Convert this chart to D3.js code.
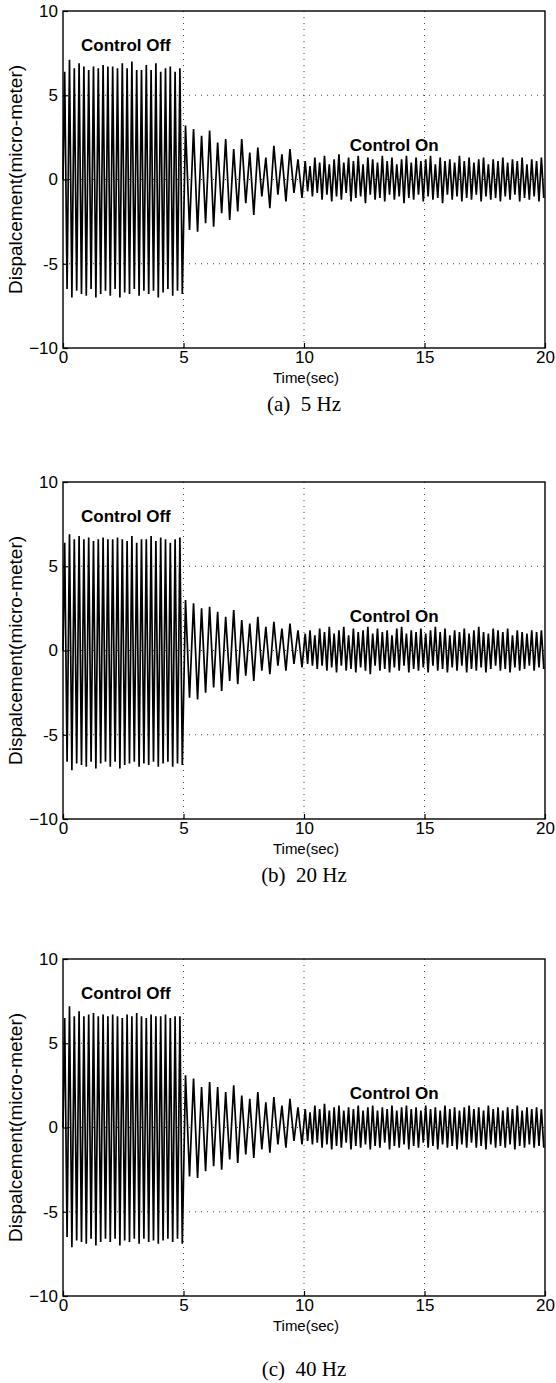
<!DOCTYPE html>
<html><head><meta charset="utf-8">
<script src="https://cdn.jsdelivr.net/npm/d3@7"></script>
<style>body{margin:0;background:#fff}svg{display:block}</style>
</head><body>
<script>
// ---- data ----
const xTicks = [0, 5, 10, 15, 20];
const yTicks = [10, 5, 0, -5, -10];
const yTickLabels = ["10", "5", "0", "-5", "\u221210"];
const captions = ["(a)  5 Hz", "(b)  20 Hz", "(c)  40 Hz"];
const xLabel = "Time(sec)";
const yLabel = "Dispalcement(micro-meter)";
const offText = "Control Off", onText = "Control On";
const segTimes = [0.02, 5.0, 10.0, 20.0]; // segment boundaries (sec)

// panel (a)
const offPeaksA = [6.4,7.1,6.6,6.9,6.7,6.5,6.7,6.6,6.8,6.7,6.7,6.6,6.9,6.6,7.0,6.5,6.5,6.8,6.5,6.9,6.4,6.6,6.7,6.4,6.6];
const offTroughsA = [-6.5,-7.0,-6.6,-6.8,-6.9,-6.5,-7.0,-6.8,-6.6,-6.9,-6.5,-7.0,-6.7,-6.8,-6.5,-6.9,-6.6,-6.8,-6.6,-7.0,-6.7,-6.5,-6.9,-6.6,-6.8];
const decayPeaksA = [3.2,3.0,2.6,2.9,2.2,2.4,1.8,2.4,1.6,1.9,1.3,2.0,1.5,1.8,1.2];
const decayTroughsA = [-3.0,-3.1,-2.6,-2.8,-2.0,-2.4,-1.9,-1.4,-2.1,-1.0,-1.7,-0.9,-1.3,-0.8,-1.1];
const steadyPeaksA = [1.1,0.8,1.3,1.0,1.4,0.9,1.2,1.5,1.0,1.3,1.1,1.4,0.9,1.3,1.2,1.0,1.4,1.1,1.3,0.9,1.2,1.4,1.0,1.3,1.1,1.2,1.4,0.9,1.3,1.1,1.2,1.0,1.4,1.1,1.3,1.0,1.2,1.3,0.9,1.2,1.1,1.3,1.0,1.2,1.1,1.3,0.9,1.2,1.1,1.3];
const steadyTroughsA = [-0.7,-1.0,-0.8,-1.2,-0.9,-1.3,-1.0,-1.2,-0.8,-1.3,-1.1,-1.0,-1.4,-0.9,-1.2,-1.1,-1.3,-0.9,-1.2,-1.0,-1.4,-1.1,-1.2,-0.9,-1.3,-1.0,-1.2,-1.1,-1.4,-0.9,-1.2,-1.0,-1.3,-1.1,-1.2,-0.9,-1.3,-1.0,-1.2,-1.1,-1.3,-1.0,-1.2,-0.9,-1.3,-1.1,-1.2,-1.0,-1.3,-1.1];

// panel (b)
const offPeaksB = [6.4,6.9,6.6,6.8,6.6,6.7,6.5,6.6,6.7,6.6,6.6,6.7,6.6,6.5,6.8,6.4,6.6,6.6,6.8,6.5,6.7,6.6,6.4,6.6,6.7];
const offTroughsB = [-6.6,-7.1,-6.7,-6.8,-6.9,-6.6,-7.0,-6.7,-6.6,-6.9,-6.6,-7.0,-6.8,-6.7,-6.6,-6.9,-6.7,-6.8,-6.6,-6.9,-6.7,-6.6,-6.9,-6.7,-6.8];
const decayPeaksB = [3.0,2.8,2.5,2.6,2.3,2.0,2.4,1.8,1.6,2.0,1.4,1.7,1.3,1.6,1.2];
const decayTroughsB = [-2.8,-2.9,-2.5,-2.2,-2.4,-1.8,-2.0,-1.5,-1.8,-1.2,-1.4,-0.9,-1.2,-0.8,-1.0];
const steadyPeaksB = [1.0,1.2,0.9,1.3,1.1,1.4,1.0,1.2,1.4,0.9,1.3,1.1,1.2,1.4,1.0,1.3,1.1,1.2,0.9,1.3,1.4,1.0,1.2,1.1,1.3,1.0,1.2,1.4,1.1,1.3,0.9,1.2,1.1,1.3,1.0,1.2,1.4,1.1,1.0,1.3,1.2,1.1,1.3,0.9,1.2,1.1,1.0,1.2,1.1,1.2];
const steadyTroughsB = [-0.8,-0.9,-1.1,-0.9,-1.2,-1.0,-1.3,-0.9,-1.2,-1.1,-1.3,-1.0,-1.2,-1.4,-0.9,-1.2,-1.1,-1.3,-1.0,-1.2,-0.9,-1.3,-1.1,-1.2,-1.0,-1.3,-0.9,-1.2,-1.1,-1.3,-1.0,-1.2,-0.9,-1.3,-1.1,-1.2,-1.0,-1.3,-1.1,-0.9,-1.2,-1.1,-1.3,-1.0,-1.2,-1.1,-0.9,-1.2,-1.0,-1.1];

// panel (c)
const offPeaksC = [6.5,7.2,6.6,6.9,6.6,6.7,6.8,6.6,6.7,6.6,6.7,6.6,6.5,6.7,6.6,6.8,6.6,6.5,6.7,6.6,6.6,6.7,6.5,6.6,6.6];
const offTroughsC = [-6.5,-7.1,-6.7,-6.8,-6.9,-6.6,-7.0,-6.8,-6.6,-6.8,-6.6,-7.0,-6.7,-6.8,-6.6,-6.9,-6.6,-6.8,-6.7,-6.9,-6.7,-6.6,-6.8,-6.6,-6.9];
const decayPeaksC = [3.1,2.9,2.4,2.7,2.4,2.1,2.5,1.9,1.7,2.1,1.5,1.8,1.3,1.7,1.2];
const decayTroughsC = [-2.9,-3.0,-2.6,-2.3,-2.5,-1.9,-2.1,-1.6,-1.8,-1.3,-1.5,-1.0,-1.2,-0.8,-1.0];
const steadyPeaksC = [1.1,0.9,1.3,1.1,1.4,1.0,1.2,1.3,1.0,1.2,1.1,1.3,1.0,1.2,1.3,1.0,1.2,1.1,1.3,1.0,1.2,1.3,1.1,1.2,1.0,1.3,1.1,1.2,1.0,1.3,1.1,1.2,1.0,1.2,1.3,1.1,1.2,1.0,1.3,1.1,1.2,1.0,1.2,1.1,1.3,1.0,1.2,1.1,1.2,1.1];
const steadyTroughsC = [-0.8,-1.0,-0.9,-1.2,-1.0,-1.3,-1.1,-1.2,-0.9,-1.3,-1.1,-1.2,-1.0,-1.3,-1.1,-1.2,-0.9,-1.3,-1.1,-1.2,-1.0,-1.3,-1.1,-1.2,-0.9,-1.2,-1.1,-1.3,-1.0,-1.2,-1.1,-1.3,-1.0,-1.2,-0.9,-1.2,-1.1,-1.3,-1.0,-1.2,-1.1,-1.2,-1.0,-1.3,-1.1,-1.2,-1.0,-1.2,-1.1,-1.2];

const panelsData = [
  [offPeaksA, offTroughsA, decayPeaksA, decayTroughsA, steadyPeaksA, steadyTroughsA],
  [offPeaksB, offTroughsB, decayPeaksB, decayTroughsB, steadyPeaksB, steadyTroughsB],
  [offPeaksC, offTroughsC, decayPeaksC, decayTroughsC, steadyPeaksC, steadyTroughsC]
];

// ---- layout ----
const W = 556, H = 1383;
const plotLeft = 63, plotRight = 545, plotH = 337;
const panelTops = [11, 482, 959];
const captionBaselines = [411, 882, 1376];

const svg = d3.select("body").append("svg").attr("width", W).attr("height", H);
const sans = "'Liberation Sans', Arial, sans-serif";

function buildSeries(peaks, troughs, t0, t1) {
  const n = peaks.length;
  const pts = [];
  const step = (t1 - t0) / n;
  for (let i = 0; i < n; i++) {
    pts.push({t: t0 + i * step + step * 0.25, v: peaks[i]});
    pts.push({t: t0 + i * step + step * 0.75, v: troughs[i]});
  }
  return pts;
}

panelsData.forEach((pd, k) => {
  const top = panelTops[k];
  const x = d3.scaleLinear().domain([0, 20]).range([plotLeft, plotRight]);
  const y = d3.scaleLinear().domain([-10, 10]).range([top + plotH, top]);
  const g = svg.append("g");

  // grid (dotted)
  g.selectAll(".gx").data([5, 10, 15]).join("line")
    .attr("x1", d => x(d)).attr("x2", d => x(d))
    .attr("y1", top).attr("y2", top + plotH)
    .attr("stroke", "#444").attr("stroke-width", 1).attr("stroke-dasharray", "1,5");
  g.selectAll(".gy").data([5, 0, -5]).join("line")
    .attr("x1", plotLeft).attr("x2", plotRight)
    .attr("y1", d => y(d)).attr("y2", d => y(d))
    .attr("stroke", "#444").attr("stroke-width", 1).attr("stroke-dasharray", "1,5");

  // signal
  const pts = [{t: 0, v: 0}]
    .concat(buildSeries(pd[0], pd[1], segTimes[0], segTimes[1]))
    .concat(buildSeries(pd[2], pd[3], segTimes[1], segTimes[2]))
    .concat(buildSeries(pd[4], pd[5], segTimes[2], segTimes[3]));
  const line = d3.line().x(d => x(d.t)).y(d => y(d.v));
  g.append("path").datum(pts).attr("d", line)
    .attr("fill", "none").attr("stroke", "#000").attr("stroke-width", 1.7)
    .attr("stroke-linejoin", "miter").attr("stroke-miterlimit", 2);

  // box
  g.append("rect").attr("x", plotLeft).attr("y", top)
    .attr("width", plotRight - plotLeft).attr("height", plotH)
    .attr("fill", "none").attr("stroke", "#000").attr("stroke-width", 1.4);

  // axes
  const xAxis = d3.axisBottom(x).tickValues(xTicks).tickSize(-5).tickPadding(3).tickFormat(d3.format("d"));
  const gx = g.append("g").attr("transform", `translate(0,${top + plotH})`).call(xAxis);
  const yAxis = d3.axisLeft(y).tickValues(yTicks).tickSize(-5).tickPadding(5)
    .tickFormat((d, i) => yTickLabels[i]);
  const gy = g.append("g").attr("transform", `translate(${plotLeft},0)`).call(yAxis);
  [gx, gy].forEach(a => {
    a.select(".domain").remove();
    a.selectAll(".tick line").attr("stroke", "#000").attr("stroke-width", 1.2);
    a.selectAll(".tick text").attr("font-family", sans).attr("font-size", 17).attr("fill", "#000");
  });

  // labels
  g.append("text").attr("x", (plotLeft + plotRight) / 2 + 2).attr("y", top + plotH + 35)
    .attr("text-anchor", "middle").attr("font-family", sans).attr("font-size", 15).text(xLabel);
  g.append("text").attr("transform", `translate(22,${top + plotH / 2}) rotate(-90)`)
    .attr("text-anchor", "middle").attr("font-family", sans).attr("font-size", 19).text(yLabel);
  g.append("text").attr("x", x(0.75)).attr("y", y(7.6)).attr("font-family", sans)
    .attr("font-weight", "bold").attr("font-size", 17).text(offText);
  g.append("text").attr("x", x(11.9)).attr("y", y(1.7)).attr("font-family", sans)
    .attr("font-weight", "bold").attr("font-size", 17).text(onText);
  g.append("text").attr("x", 304).attr("y", captionBaselines[k])
    .attr("text-anchor", "middle").attr("font-family", "'Liberation Serif', 'DejaVu Serif', serif")
    .attr("font-size", 21).style("white-space", "pre").text(captions[k]);
});
</script>
</body></html>
